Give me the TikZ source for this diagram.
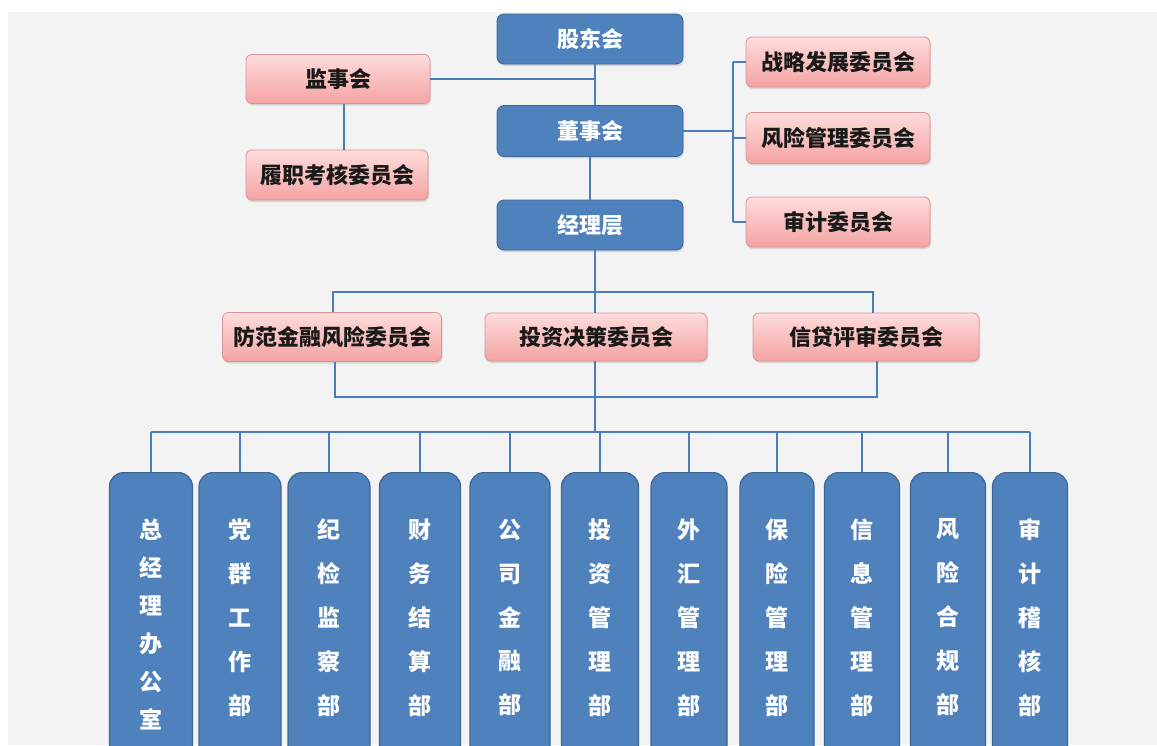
\documentclass[tikz,border=0pt]{standalone}
\usepackage{fontspec}
\setmainfont{Noto Sans CJK SC}
\usetikzlibrary{shadows,calc}
\definecolor{bgc}{HTML}{F3F3F3}
\definecolor{blueF}{HTML}{4F81BD}
\definecolor{blueD}{HTML}{3D6697}
\definecolor{lineC}{HTML}{4A7EBB}
\definecolor{pinkT}{HTML}{FFDCDC}
\definecolor{pinkB}{HTML}{F4A3A3}
\definecolor{pinkD}{HTML}{D99494}
\tikzset{
  topbox/.style={rectangle, rounded corners=7pt, fill=blueF, draw=blueD, line width=0.8pt,
    text=white, font=\fontsize{22}{26}\selectfont\bfseries, inner sep=0pt,
    drop shadow={opacity=0.25, shadow xshift=1pt, shadow yshift=-2pt}},
  pinkbox/.style={rectangle, rounded corners=6pt, top color=pinkT, bottom color=pinkB, draw=pinkD, line width=0.8pt,
    text=black!90, font=\fontsize{22}{26}\selectfont\bfseries, inner sep=0pt,
    drop shadow={opacity=0.25, shadow xshift=1pt, shadow yshift=-2pt}},
  dept/.style={rectangle, rounded corners=14pt, fill=blueF, draw=blueD, line width=1.2pt,
    text=white, align=center, anchor=north, inner xsep=0pt, inner ysep=46pt},
  six/.style={font=\fontsize{23}{38}\selectfont\bfseries},
  five/.style={font=\fontsize{23}{44}\selectfont\bfseries},
  conn/.style={draw=lineC, line width=2.7pt},
}
\begin{document}
\begin{tikzpicture}[x=1pt,y=-1pt]
\useasboundingbox (0,0) rectangle (1157,745);
\clip (0,0) rectangle (1157,745);
\fill[white] (0,0) rectangle (1157,745);
\fill[bgc] (8,12) rectangle (1157,745);

% top blue boxes
\node[topbox, minimum width=186pt, minimum height=50pt] (gd) at (590,39) {股东会};
\node[topbox, minimum width=186pt, minimum height=51pt] (dsh) at (590,131) {董事会};
\node[topbox, minimum width=186pt, minimum height=50pt] (jl) at (590,225) {经理层};

% left pink
\node[pinkbox, minimum width=184pt, minimum height=49pt] (jsh) at (338,79) {监事会};
\node[pinkbox, minimum width=182pt, minimum height=50pt] (lz) at (337,175) {履职考核委员会};

% right pink
\node[pinkbox, minimum width=184pt, minimum height=50pt] (zl) at (838,62) {战略发展委员会};
\node[pinkbox, minimum width=184pt, minimum height=51pt] (fx) at (838,138) {风险管理委员会};
\node[pinkbox, minimum width=184pt, minimum height=50pt] (sj) at (838,222) {审计委员会};

% middle committees
\node[pinkbox, minimum width=219pt, minimum height=49pt] (ff) at (332,337) {防范金融风险委员会};
\node[pinkbox, minimum width=222pt, minimum height=48pt] (tz) at (596,337) {投资决策委员会};
\node[pinkbox, minimum width=226pt, minimum height=48pt] (xd) at (866,337) {信贷评审委员会};

% departments
\node[dept, six, minimum width=83pt] (b1) at (151,472) {总\\经\\理\\办\\公\\室};
\node[dept, five, minimum width=82pt] (b2) at (240,472) {党\\群\\工\\作\\部};
\node[dept, five, minimum width=82pt] (b3) at (329,472) {纪\\检\\监\\察\\部};
\node[dept, five, minimum width=81pt] (b4) at (420,472) {财\\务\\结\\算\\部};
\node[dept, five, minimum width=80pt] (b5) at (510,472) {公\\司\\金\\融\\部};
\node[dept, five, minimum width=77pt] (b6) at (600,472) {投\\资\\管\\理\\部};
\node[dept, five, minimum width=76pt] (b7) at (689,472) {外\\汇\\管\\理\\部};
\node[dept, five, minimum width=74pt] (b8) at (777,472) {保\\险\\管\\理\\部};
\node[dept, five, minimum width=75pt] (b9) at (862,472) {信\\息\\管\\理\\部};
\node[dept, five, minimum width=75pt] (b10) at (948,472) {风\\险\\合\\规\\部};
\node[dept, five, minimum width=75pt] (b11) at (1030,472) {审\\计\\稽\\核\\部};

% helper coordinates
\coordinate (spine) at (595,0);
\coordinate (brk) at (733,0);
\coordinate (bar1) at (0,292);
\coordinate (bar2) at (0,397);
\coordinate (bar3) at (0,432);
\coordinate (ffT) at ($(ff.north)+(1,0)$);
\coordinate (xdT) at ($(xd.north)+(7,0)$);
\coordinate (ffB) at ($(ff.south)+(3,0)$);
\coordinate (xdB) at ($(xd.south)+(11,0)$);
\coordinate (jshB) at ($(jsh.south)+(6,0)$);

% connectors top
\draw[conn] (gd.south -| spine) -- (dsh.north -| spine);
\draw[conn] (jsh.east) -- (jsh.east -| spine);
\draw[conn] (jshB) -- (jshB |- lz.north);
\draw[conn] (dsh.south) -- (jl.north);
\draw[conn] (dsh.east) -- (dsh.east -| brk);
\draw[conn] (zl.west -| brk) -- (sj.west -| brk);
\draw[conn] (zl.west -| brk) -- (zl.west);
\draw[conn] (fx.west -| brk) -- (fx.west);
\draw[conn] (sj.west -| brk) -- (sj.west);

% middle
\draw[conn] (jl.south -| spine) -- (tz.north -| spine);
\draw[conn] (ffT) -- (ffT |- bar1) -- (xdT |- bar1) -- (xdT);
\draw[conn] (ffB) -- (ffB |- bar2) -- (xdB |- bar2) -- (xdB);
\draw[conn] (tz.south -| spine) -- (spine |- bar3);

% bottom bar
\draw[conn] (b1.north |- bar3) -- (b11.north |- bar3);
\foreach \b in {b1,b2,b3,b4,b5,b6,b7,b8,b9,b10,b11}{
  \draw[conn] (\b.north |- bar3) -- (\b.north);
}
\end{tikzpicture}
\end{document}
